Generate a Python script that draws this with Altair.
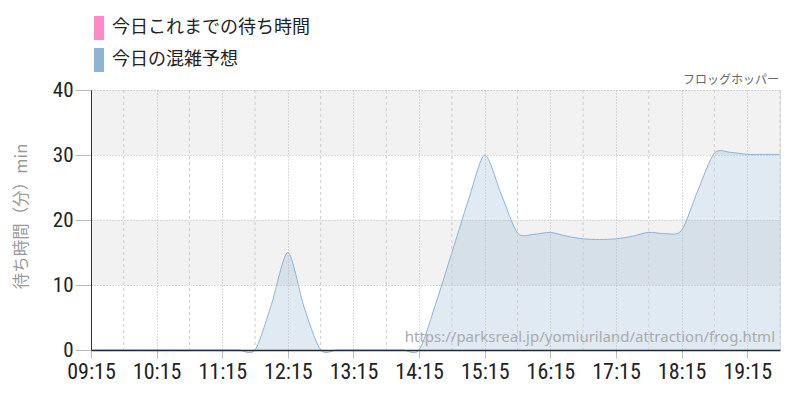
import altair as alt
import pandas as pd

times = ["09:15", "09:30", "09:45", "10:00", "10:15", "10:30", "10:45", "11:00", "11:15", "11:30",
         "11:45", "12:00", "12:15", "12:30", "12:45", "13:00", "13:15", "13:30", "13:45", "14:00",
         "14:15", "14:30", "14:45", "15:00", "15:15", "15:30", "15:45", "16:00", "16:15", "16:30",
         "16:45", "17:00", "17:15", "17:30", "17:45", "18:00", "18:15", "18:30", "18:45", "19:00",
         "19:15", "19:30", "19:45"]
forecast = [0, 0, 0, 0, 0, 0, 0, 0, 0, 0,
            0, 7, 15, 6.5, 0, 0, 0, 0, 0, 0,
            0, 7, 15, 23, 30, 24, 18, 17.8, 18.1, 17.5,
            17.1, 17.0, 17.1, 17.5, 18.1, 17.9, 18.4, 24.6, 30.3, 30.4,
            30.1, 30.1, 30.1]
series_names = ["今日これまでの待ち時間", "今日の混雑予想"]
series_colors = ["#ff88c8", "#8fb3d3"]
tick_hours = [9, 10, 11, 12, 13, 14, 15, 16, 17, 18, 19]
dash_times = ["09:45", "10:45", "11:45", "12:45", "13:45", "14:45", "15:45", "16:45", "17:45", "18:45", "19:45"]
band_lo = [10, 30]
band_hi = [20, 40]
y_ticks = [0, 10, 20, 30, 40]
y_title = "待ち時間（分）min"
attraction = "フロッグホッパー"
source_url = "https://parksreal.jp/yomiuriland/attraction/frog.html"

DAY = "2024-01-01T"
df = pd.DataFrame({"t": [DAY + t + ":00" for t in times], "v": forecast, "series": series_names[1]})
dash_df = pd.DataFrame({"t": [DAY + t + ":00" for t in dash_times]})
band_df = pd.DataFrame({"v": band_lo, "hi": band_hi})

W, H = 689, 260
xscale = alt.Scale(domain=[alt.DateTime(year=2024, month=1, date=1, hours=9, minutes=15),
                           alt.DateTime(year=2024, month=1, date=1, hours=19, minutes=45)], nice=False)
yscale = alt.Scale(domain=[0, 40], nice=False)

NUMFONT = "Roboto Condensed, Liberation Sans Narrow, Arial Narrow, DejaVu Sans Condensed, sans-serif"
JPFONT = "Noto Sans CJK JP"

xaxis = alt.Axis(values=[alt.DateTime(year=2024, month=1, date=1, hours=h, minutes=15) for h in tick_hours],
                 format="%H:%M", labelFont=NUMFONT, labelFontSize=22, labelColor="#222",
                 labelPadding=3, tickSize=8, tickColor="#bbb", domainColor="#1e2a36", domainWidth=1.5,
                 grid=True, gridColor="#bbb", gridDash=[1, 2], zindex=1, labelFlush=False)
yaxis = alt.Axis(values=y_ticks, labelFont=NUMFONT, labelFontSize=21, labelColor="#222",
                 labelPadding=2, tickSize=16, tickColor="#bbb", domainColor="#333", domainWidth=1,
                 grid=True, gridColor="#bbb", gridDash=[1, 2], zindex=1,
                 titleFont=JPFONT, titleFontSize=16.5, titleFontWeight="normal", titleColor="#999",
                 titleX=-70, titleY=126, titleAngle=270, titleAlign="center", titleBaseline="middle")

X = alt.X("t:T", scale=xscale, title=None, axis=xaxis)
Y = alt.Y("v:Q", scale=yscale, title=y_title, axis=yaxis)

bands = alt.Chart(band_df).mark_rect(color="#f2f2f2").encode(
    x=alt.value(0), x2=alt.value(W), y=Y, y2="hi:Q")

area = alt.Chart(df).mark_area(interpolate="cardinal", tension=0.2, fillOpacity=0.28).encode(
    x=X, y=Y,
    color=alt.Color("series:N", scale=alt.Scale(domain=series_names, range=series_colors),
                    legend=alt.Legend(orient="none", legendX=-4, legendY=-74, title=None,
                                      symbolType="M-0.42,-1H0.42V1H-0.42Z", symbolSize=576,
                                      symbolStrokeWidth=0, symbolOpacity=1, labelFont=JPFONT,
                                      labelFontSize=18, labelColor="#222", labelOffset=1,
                                      labelLimit=400, rowPadding=8, padding=0)))

line = alt.Chart(df).mark_line(interpolate="cardinal", tension=0.2, color="#8fb3d3", strokeWidth=1).encode(
    x=X, y=Y)

dashes = alt.Chart(dash_df).mark_rule(color="#ccc", strokeDash=[3, 3], strokeWidth=1).encode(
    x=X, y=alt.value(0), y2=alt.value(H))

url_text = alt.Chart(pd.DataFrame({"s": [source_url]})).mark_text(
    align="right", baseline="middle", font="Noto Sans", fontSize=15, color="#aaa").encode(
    text="s:N", x=alt.value(W - 5), y=alt.value(H - 13))

name_text = alt.Chart(pd.DataFrame({"s": [attraction]})).mark_text(
    align="right", baseline="middle", font=JPFONT, fontSize=12, color="#666").encode(
    text="s:N", x=alt.value(W - 1), y=alt.value(-10))

chart = alt.layer(bands, area, line, dashes, url_text, name_text).properties(
    width=W, height=H, autosize=alt.AutoSizeParams(type="none"),
    padding={"left": 83, "top": 82, "right": 12, "bottom": 42}
).configure_view(stroke=None).configure(background="white")

chart.save("out.html", embed_options={"renderer": "svg", "actions": False})
